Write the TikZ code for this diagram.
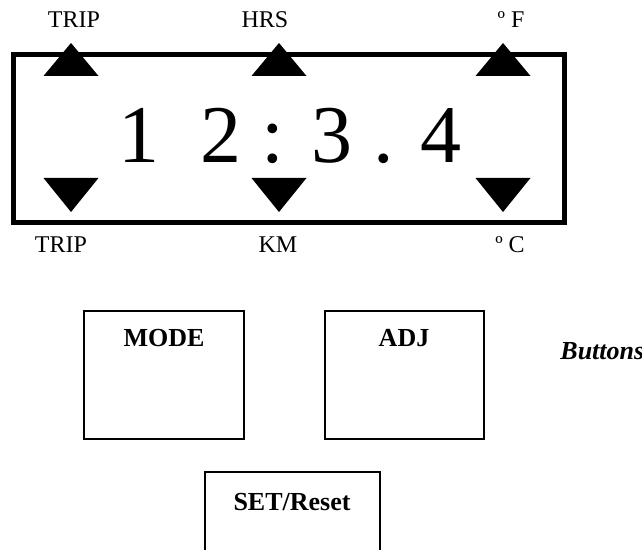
\documentclass[tikz,border=0pt]{standalone}
\usepackage{fontspec}
\setmainfont{Liberation Serif}
\usetikzlibrary{positioning}

\tikzset{
  lbl/.style={anchor=base,inner sep=0pt,font=\fontsize{12}{14}\selectfont},
  btnlbl/.style={anchor=base,inner sep=0pt,font=\fontsize{13}{15}\selectfont\bfseries},
  btn/.style={line width=1pt}
}

\begin{document}
\begin{tikzpicture}[x=0.5pt,y=-0.5pt]
\clip (0,0) rectangle (642,550);
% display frame
\draw[line width=2.5pt] (13.5,54.5) rectangle (564.5,222.5);
\foreach \x in {71,279,503} {
  \fill (\x-27.5,76)--(\x,43)--(\x+27.5,76)--cycle;
  \fill (\x-27.5,178)--(\x,212)--(\x+27.5,178)--cycle;
}
\node[anchor=base,inner sep=0pt,font=\fontsize{41}{41}\selectfont] (digits) at (290,163) {1\ \ 2 : 3 . 4};
% labels over and under the arrows
\node[lbl] (tripup) at (74,28) {TRIP};
\node[lbl] (hrs) at (265,28) {HRS};
\node[lbl] (degf) at (511,28) {º F};
\node[lbl] (tripdown) at (61,253) {TRIP};
\node[lbl] (km) at (278,253) {KM};
\node[lbl] (degc) at (510,253) {º C};
% buttons
\draw[btn] (84,311) rectangle (244,439);
\draw[btn] (325,311) rectangle (483.5,439);
\draw[btn] (205,550)--(205,472)--(380,472)--(380,550);
\node[btnlbl] (mode) at (164,347) {MODE};
\node[btnlbl] (adj) at (404,347) {ADJ};
\node[btnlbl] (setreset) at (292,510) {SET/Reset};
\node[anchor=base west,inner sep=0pt,font=\fontsize{13}{15}\selectfont\bfseries\itshape] (buttons) at (560,360) {Buttons};
\end{tikzpicture}
\end{document}
